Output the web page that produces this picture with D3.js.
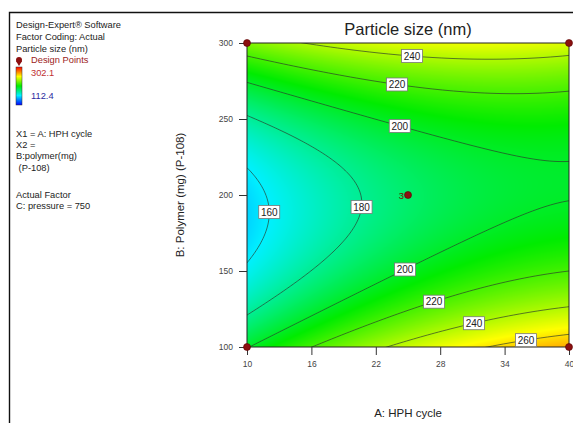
<!DOCTYPE html>
<html><head><meta charset="utf-8">
<script src="https://cdn.jsdelivr.net/npm/d3@7"></script>
<style>
body{margin:0;background:#fff}
svg{display:block}
text{font-family:Arial,"Liberation Sans",sans-serif}
</style>
</head><body>
<svg id="chart" width="573" height="423"></svg>
<script>
// ---- data ----
const title = "Particle size (nm)";
const xLabel = "A: HPH cycle";
const yLabel = "B: Polymer (mg) (P-108)";
const xDomain = [10, 40];
const yDomain = [100, 300];
const xTicks = [10, 16, 22, 28, 34, 40];
const yTicks = [100, 150, 200, 250, 300];
// fitted quadratic model (coded factors): Intercept, A, B, AB, A^2, B^2
const modelTerms = ["Intercept", "A", "B", "AB", "A²", "B²"];
const modelCoefficients = [187.35, 22.15, 2.5, -13.5, -10, 60];
const contourLevels = [160, 180, 200, 220, 240, 260];
const responseRange = [112.4, 302.1];
const designX = [10, 40, 10, 40, 25];
const designY = [100, 100, 300, 300, 200];
const designReps = [1, 1, 1, 1, 3];
const legendLines = ["Design-Expert® Software", "Factor Coding: Actual", "Particle size (nm)"];
const factorLines = ["X1 = A: HPH cycle", "X2 =", "B:polymer(mg)", " (P-108)"];
const actualLines = ["Actual Factor", "C: pressure = 750"];
// contour label hints: level, A, B
const labelLevels = [240, 220, 200, 180, 160, 200, 220, 240, 260];
const labelA = [25.4, 24, 24.3, 20.6, 12.2, 24.5, 27.3, 31, 35.9];
const labelB = [293, 274, 248, 192, 189, 155, 133, 119, 108];

// ---- layout ----
const svg = d3.select("#chart");
const L = 247, R = 569, T = 43, B = 347;
const xs = d3.scaleLinear().domain(xDomain).range([L, R]);
const ys = d3.scaleLinear().domain(yDomain).range([B, T]);

function model(x, y) {
  const a = (x - 25) / 15, b = (y - 200) / 100;
  const c = modelCoefficients;
  return c[0] + c[1]*a + c[2]*b + c[3]*a*b + c[4]*a*a + c[5]*b*b;
}
const color = d3.scaleLinear()
  .domain([0, 0.25, 0.5, 0.75, 1].map(p => responseRange[0] + p*(responseRange[1]-responseRange[0])))
  .range(["#0000ff", "#00f0ff", "#00ec00", "#ffff00", "#ff0000"])
  .clamp(true);

// outer frame
svg.append("path").attr("d", "M9.5,423V12.5H573").attr("fill","none").attr("stroke","#111").attr("stroke-width",1.4);

// fill via canvas
const W = R - L, H = B - T;
const cv = document.createElement("canvas");
cv.width = W; cv.height = H;
const ctx = cv.getContext("2d");
const img = ctx.createImageData(W, H);
for (let j = 0; j < H; j++) {
  for (let i = 0; i < W; i++) {
    const v = model(xs.invert(L + i + 0.5), ys.invert(T + j + 0.5));
    const c = d3.rgb(color(v));
    const k = (j*W + i)*4;
    img.data[k] = c.r; img.data[k+1] = c.g; img.data[k+2] = c.b; img.data[k+3] = 255;
  }
}
ctx.putImageData(img, 0, 0);
svg.append("image").attr("x", L).attr("y", T).attr("width", W).attr("height", H)
  .attr("href", cv.toDataURL());

// contours
const pad = 4;
const nx = W + 2*pad, ny = H + 2*pad;
const vals = new Float64Array(nx*ny);
for (let j = 0; j < ny; j++) for (let i = 0; i < nx; i++)
  vals[j*nx + i] = model(xs.invert(L - pad + i), ys.invert(T - pad + j));
const contours = d3.contours().size([nx, ny]).thresholds(contourLevels)(vals);
const toPx = p => [L - pad + p[0] - 0.5, T - pad + p[1] - 0.5];
svg.append("clipPath").attr("id", "clip").append("rect")
  .attr("x", L).attr("y", T).attr("width", W).attr("height", H);
const gC = svg.append("g").attr("clip-path", "url(#clip)");
const linesByLevel = {};
contours.forEach(c => {
  const rings = [];
  c.coordinates.forEach(poly => poly.forEach(ring => rings.push(ring.map(toPx))));
  linesByLevel[c.value] = rings;
  rings.forEach(r => {
    gC.append("path").attr("d", d3.line()(r) + "Z")
      .attr("fill", "none").attr("stroke", "#2b3a2b").attr("stroke-opacity", 0.85).attr("stroke-width", 0.8);
  });
});

// plot border
svg.append("rect").attr("x", L).attr("y", T).attr("width", W).attr("height", H)
  .attr("fill", "none").attr("stroke", "#222").attr("stroke-width", 1);

// contour labels
labelLevels.forEach((lv, i) => {
  const hx = xs(labelA[i]), hy = ys(labelB[i]);
  let best = null, bd = Infinity;
  (linesByLevel[lv] || []).forEach(r => r.forEach(p => {
    if (p[0] < L + 4 || p[0] > R - 4 || p[1] < T + 3 || p[1] > B - 3) return;
    const d = (p[0]-hx)**2 + (p[1]-hy)**2;
    if (d < bd) { bd = d; best = p; }
  }));
  if (!best) best = [hx, hy];
  const g = svg.append("g").attr("transform", `translate(${best[0]},${best[1]})`);
  g.append("rect").attr("x", -10.5).attr("y", -6.5).attr("width", 21).attr("height", 13)
    .attr("fill", "#fff").attr("stroke", "#777").attr("stroke-width", 0.8);
  g.append("text").attr("text-anchor", "middle").attr("y", 3.8).attr("font-size", 10)
    .attr("fill", "#222").text(lv);
});

// axes
const xAxis = svg.append("g").attr("transform", `translate(0,${B})`)
  .call(d3.axisBottom(xs).tickValues(xTicks).tickSize(8).tickPadding(6));
const yAxis = svg.append("g").attr("transform", `translate(${L},0)`)
  .call(d3.axisLeft(ys).tickValues(yTicks).tickSize(8).tickPadding(6));
[xAxis, yAxis].forEach(ax => {
  ax.select(".domain").remove();
  ax.selectAll("line").attr("stroke", "#333");
  ax.selectAll("text").attr("font-size", 8.5).attr("fill", "#444")
    .attr("font-family", "Arial, 'Liberation Sans', sans-serif");
});

// design points
designX.forEach((dx, i) => {
  svg.append("circle").attr("cx", xs(dx)).attr("cy", ys(designY[i])).attr("r", 3.5)
    .attr("fill", "#8b1010").attr("stroke", "#5a0000").attr("stroke-width", 0.6);
  if (designReps[i] > 1)
    svg.append("text").attr("x", xs(dx) - 4).attr("y", ys(designY[i]) + 3.5)
      .attr("text-anchor", "end").attr("font-size", 9.5).attr("fill", "#6a1a00").text(designReps[i]);
});

// titles
svg.append("text").attr("x", 408).attr("y", 35).attr("text-anchor", "middle")
  .attr("font-size", 16.5).attr("fill", "#222").text(title);
svg.append("text").attr("x", 408).attr("y", 417).attr("text-anchor", "middle")
  .attr("font-size", 11.5).attr("fill", "#222").text(xLabel);
svg.append("text").attr("transform", "translate(184,195) rotate(-90)").attr("text-anchor", "middle")
  .attr("font-size", 11.5).attr("fill", "#222").text(yLabel);

// legend text
const lg = svg.append("g").attr("font-size", 9.3).attr("fill", "#222");
legendLines.forEach((s, i) => lg.append("text").attr("x", 16).attr("y", 28 + i*12).text(s));
lg.append("circle").attr("cx", 19).attr("cy", 60).attr("r", 3).attr("fill", "#8b1010");
lg.append("path").attr("d", "M16,61L19,66L22,61Z").attr("fill", "#8b1010");
lg.append("text").attr("x", 31).attr("y", 63).attr("fill", "#9b1b1b").text("Design Points");
const grad = svg.append("defs").append("linearGradient").attr("id", "cbar")
  .attr("x1", 0).attr("y1", 1).attr("x2", 0).attr("y2", 0);
[0, 0.25, 0.5, 0.75, 1].forEach(p => grad.append("stop").attr("offset", p)
  .attr("stop-color", color(responseRange[0] + p*(responseRange[1]-responseRange[0]))));
lg.append("rect").attr("x", 16).attr("y", 67).attr("width", 6).attr("height", 38)
  .attr("fill", "url(#cbar)").attr("stroke", "#333").attr("stroke-width", 0.5);
lg.append("text").attr("x", 31).attr("y", 76).attr("fill", "#c03030").text(responseRange[1]);
lg.append("text").attr("x", 31).attr("y", 99).attr("fill", "#2a2aa0").text(responseRange[0]);
factorLines.forEach((s, i) => lg.append("text").attr("x", 16).attr("y", 137 + i*11.2)
  .attr("xml:space", "preserve").style("white-space", "pre").text(s));
actualLines.forEach((s, i) => lg.append("text").attr("x", 16).attr("y", 198 + i*11).text(s));
</script>
</body></html>
